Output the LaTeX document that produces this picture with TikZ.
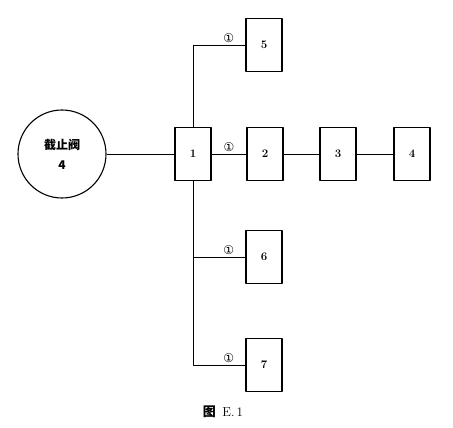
\documentclass[tikz,border=0pt]{standalone}
\usepackage{fontspec}
\newfontfamily\cjk{Noto Sans CJK SC}
\newfontfamily\sym{DejaVu Sans}
\begin{document}
\begin{tikzpicture}[x=1pt, y=-1pt, font=\bfseries\fontsize{11.5}{13}\selectfont, line join=round,
	unit/.style={draw, line width=1.1pt, minimum width=36pt, minimum height=53pt, inner sep=0pt},
	pipe/.style={line width=0.6pt},
	mark1/.style={font=\sym\fontsize{12}{13}\selectfont, inner sep=1pt}]
	\useasboundingbox (0,0) rectangle (453,428);
	% valve and units
	\node[draw, circle, line width=1.1pt, minimum size=88pt, align=center, font=\cjk\bfseries\fontsize{12}{20}\selectfont] (valve) at (62,154) {截止阀\\4};
	\node[unit] (u1) at (193,154) {1};
	\node[unit] (u2) at (265,154) {2};
	\node[unit] (u3) at (338,154) {3};
	\node[unit] (u4) at (412,154) {4};
	\node[unit] (u5) at (264,45) {5};
	\node[unit] (u6) at (264,257) {6};
	\node[unit] (u7) at (264,365) {7};
	% connections
	\draw[pipe] (valve) -- (u1);
	\draw[pipe] (u1) -- node[mark1, above=1pt] {①} (u2);
	\draw[pipe] (u2) -- (u3);
	\draw[pipe] (u3) -- (u4);
	\draw[pipe] (u1.north) |- node[mark1, pos=0.84, above=1pt] {①} (u5.west);
	\draw[pipe] (u1.south) |- node[mark1, pos=0.84, above=1pt] {①} (u6.west);
	\draw[pipe] (u1.south) |- node[mark1, pos=0.84, above=1pt] {①} (u7.west);
	% caption
	\node[font=\fontsize{13}{15}\selectfont] (cap) at (223,412) {{\cjk\bfseries 图}\enspace E.\,1};
\end{tikzpicture}
\end{document}
